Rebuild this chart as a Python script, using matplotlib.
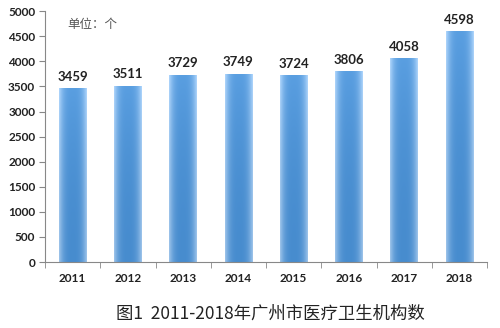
import numpy as np
import matplotlib
matplotlib.use("Agg")
from matplotlib import pyplot as plt

years = ["2011", "2012", "2013", "2014", "2015", "2016", "2017", "2018"]
counts = [3459, 3511, 3729, 3749, 3724, 3806, 4058, 4598]
yticks = [0, 500, 1000, 1500, 2000, 2500, 3000, 3500, 4000, 4500, 5000]

plt.rcParams['font.family'] = ['Lato', 'DejaVu Sans']

fig = plt.figure(figsize=(5, 3.28), dpi=100)
ax = fig.add_axes([0.09, 0.201, 0.884, 0.765])

x = np.arange(len(years))
bars = ax.bar(x, counts, width=0.5, color='none', edgecolor='none', zorder=2)

# horizontal gradient: lighter edges, darker middle
center = np.array([0.28, 0.55, 0.81])
edge = np.array([0.62, 0.77, 0.92])
cols = np.linspace(-1, 1, 60)
rows = np.linspace(0, 1, 40)
t = np.abs(cols)[None, :] ** 3
v = rows[:, None]
img = center * (1 - t[..., None]) + edge * t[..., None]
img = img + 0.07 * v[..., None] ** 2  # lighter towards top
img = np.clip(img, 0, 1)

for b in bars:
    x0, w, h = b.get_x(), b.get_width(), b.get_height()
    im = ax.imshow(img, extent=[x0, x0 + w, 0, h], origin='lower',
                   aspect='auto', zorder=2, interpolation='bilinear')
    im.set_clip_path(b)

for xi, c in zip(x, counts):
    ax.text(xi, c + 110, str(c), ha='center', va='bottom', fontsize=9.5,
            fontweight='bold', color='#222222')

ax.set_xlim(-0.5, len(years) - 0.5)
ax.set_ylim(0, 5000)
ax.set_yticks(yticks)
ax.set_yticklabels([str(v) for v in yticks], fontsize=8.5, fontweight='bold',
                   color='#222222')
ax.set_xticks(x)
ax.set_xticklabels(years, fontsize=8.5, fontweight='bold', color='#222222')
ax.tick_params(axis='x', length=0, pad=8)
ax.set_xticks(np.arange(len(years) + 1) - 0.5, minor=True)
ax.tick_params(axis='x', which='minor', length=4, direction='out', color='#888888')
ax.tick_params(axis='y', length=4, direction='out', color='#888888', pad=3)

for s in ['top', 'right']:
    ax.spines[s].set_visible(False)
ax.spines['left'].set_color('#888888')
ax.spines['bottom'].set_color('#888888')

ax.text(0.05, 0.945, "单位：个", transform=ax.transAxes, fontsize=9,
        color='#555555', family=['Noto Sans CJK SC', 'DejaVu Sans'],
        va='center')

fig.text(0.54, 0.045, "图1  2011-2018年广州市医疗卫生机构数", ha='center',
         va='center', fontsize=12.5, color='#222222',
         family=['Noto Sans CJK SC', 'DejaVu Sans'])

fig.savefig("out.png", dpi=100)
